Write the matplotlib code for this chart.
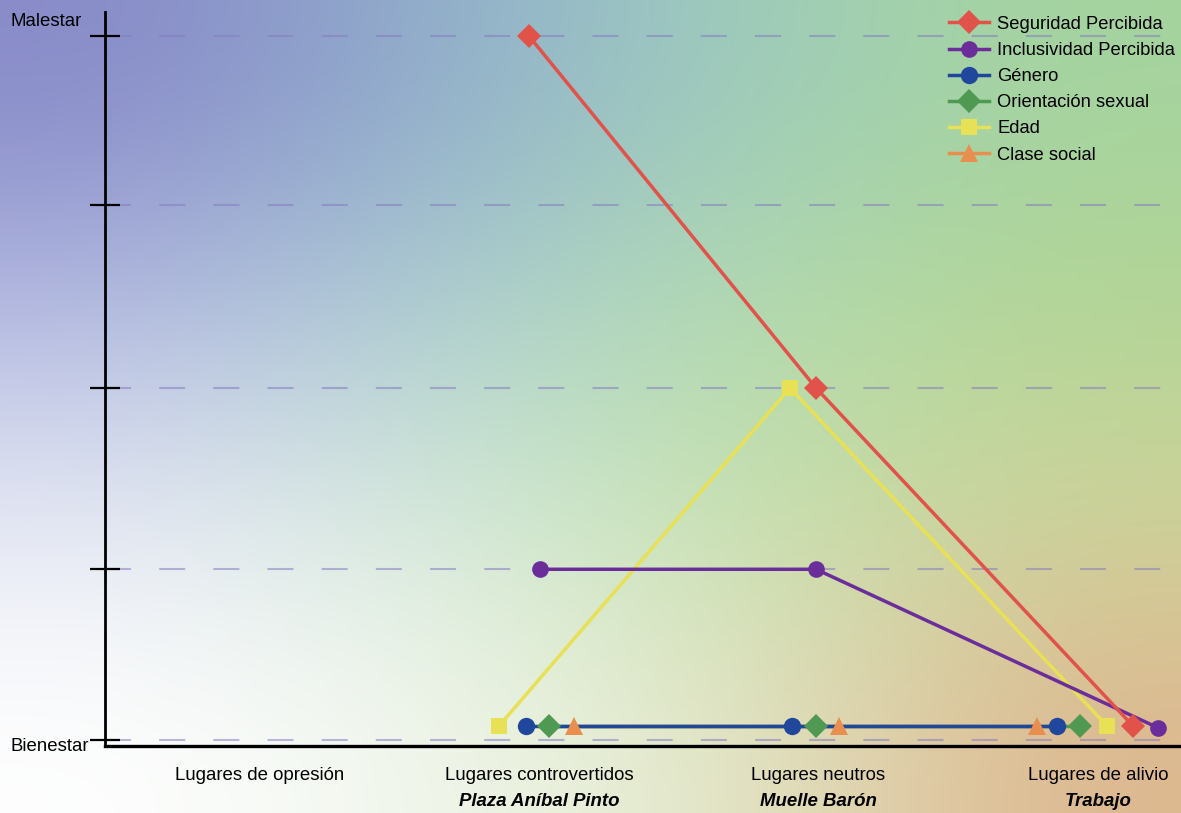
import numpy as np
import matplotlib
matplotlib.use("Agg")
import matplotlib.pyplot as plt
from matplotlib.lines import Line2D
from matplotlib.transforms import blended_transform_factory

plt.rcParams['font.family'] = ['Liberation Sans', 'DejaVu Sans']

# ---------------- data ----------------
categories = ["Lugares de opresión", "Lugares controvertidos", "Lugares neutros", "Lugares de alivio"]
places = ["", "Plaza Aníbal Pinto", "Muelle Barón", "Trabajo"]
cat_pos = [0, 1, 2, 3]

ytick_vals = [0, 0.97, 2.0, 3.04, 4]
y_low_label = "Bienestar"
y_high_label = "Malestar"

series_names = ["Seguridad Percibida", "Inclusividad Percibida", "Género",
                "Orientación sexual", "Edad", "Clase social"]

seguridad_x = [0.963, 1.991, 3.126]
seguridad_y = [4.0, 2.0, 0.08]
inclusividad_x = [1.003, 1.991, 3.215]
inclusividad_y = [0.97, 0.97, 0.07]
genero_x = [0.952, 1.905, 2.854]
genero_y = [0.08, 0.08, 0.08]
orientacion_x = [1.035, 1.991, 2.936]
orientacion_y = [0.08, 0.08, 0.08]
edad_x = [0.856, 1.898, 3.033]
edad_y = [0.08, 2.0, 0.08]
clase_x = [1.124, 2.073, 2.782]
clase_y = [0.08, 0.08, 0.08]

# ---------------- styles ----------------
colors = {
    "Seguridad Percibida": "#e0524a",
    "Inclusividad Percibida": "#6a2d9a",
    "Género": "#21479c",
    "Orientación sexual": "#4f9953",
    "Edad": "#e8e055",
    "Clase social": "#e88f50",
}
markers = {
    "Seguridad Percibida": ("D", 12.5),
    "Inclusividad Percibida": ("o", 12),
    "Género": ("o", 12.5),
    "Orientación sexual": ("D", 12),
    "Edad": ("s", 12),
    "Clase social": ("^", 12.5),
}
data = {
    "Seguridad Percibida": (seguridad_x, seguridad_y),
    "Inclusividad Percibida": (inclusividad_x, inclusividad_y),
    "Género": (genero_x, genero_y),
    "Orientación sexual": (orientacion_x, orientacion_y),
    "Edad": (edad_x, edad_y),
    "Clase social": (clase_x, clase_y),
}

W, H = 1181, 813
FS = 13.4
fig = plt.figure(figsize=(W / 100, H / 100), dpi=100)

# background gradient
bg = fig.add_axes([0, 0, 1, 1], zorder=-10)
grid_cols = np.array([
    [(135, 137, 200), (145, 175, 205), (158, 205, 190), (165, 212, 158)],
    [(178, 184, 225), (170, 207, 210), (178, 220, 175), (178, 213, 148)],
    [(228, 231, 244), (212, 234, 218), (195, 225, 172), (205, 212, 155)],
    [(255, 255, 255), (240, 246, 236), (225, 232, 198), (222, 182, 142)],
], dtype=float) / 255.0
bg.imshow(grid_cols, aspect='auto', interpolation='bicubic', extent=[0, 1, 0, 1], origin='upper')
bg.set_xlim(0, 1)
bg.set_ylim(0, 1)
bg.axis('off')

ax = fig.add_axes([105 / W, 67 / H, 1 - 105 / W, (746 - 12) / H])
ax.patch.set_alpha(0)

px_per_unit = 176.0
ax.set_ylim(-6 / px_per_unit, 4 + 24 / px_per_unit)
ax.set_xlim(-0.555, 3.298)

# grid lines
for yv in ytick_vals:
    ax.axhline(yv, color="#857cc0", alpha=0.55, lw=1.5, dashes=(12.5, 13.5), zorder=1)

# lines
order_lines = ["Clase social", "Orientación sexual", "Edad", "Género",
               "Inclusividad Percibida", "Seguridad Percibida"]
for name in order_lines:
    xs, ys = data[name]
    ax.plot(xs, ys, color=colors[name], lw=2.5, zorder=2, solid_capstyle='butt')

# markers
for name in order_lines:
    xs, ys = data[name]
    m, s = markers[name]
    ax.plot(xs, ys, ls='none', marker=m, ms=s, color=colors[name],
            markeredgewidth=0, zorder=3)

# axes styling
for sp in ["top", "right"]:
    ax.spines[sp].set_visible(False)
ax.spines["left"].set_linewidth(2)
ax.spines["bottom"].set_linewidth(2.4)
ax.set_yticks(ytick_vals)
ax.set_yticklabels([])
ax.tick_params(axis='y', direction='inout', length=22, width=1.6, color='black')
ax.set_xticks([])

# y-end labels
fig.text(10 / W, 1 - 22 / H, y_high_label, fontsize=FS, ha='left', va='center')
fig.text(10 / W, 1 - 746 / H, y_low_label, fontsize=FS, ha='left', va='center')

# category labels
trans_x = blended_transform_factory(ax.transData, fig.transFigure)
for p, c, pl in zip(cat_pos, categories, places):
    ax.text(p, 1 - 775 / H, c, transform=trans_x, ha='center', va='center', fontsize=FS)
    if pl:
        ax.text(p, 1 - 801 / H, pl, transform=trans_x, ha='center', va='center',
                fontsize=FS, fontweight='bold', fontstyle='italic')

# legend
handles = []
for name in series_names:
    m, s = markers[name]
    handles.append(Line2D([0], [0], color=colors[name], lw=2.5, marker=m, ms=s,
                          markeredgewidth=0))
fig.legend(handles, series_names, loc='upper left', bbox_to_anchor=(936 / W, 1 - 3 / H),
           frameon=False, fontsize=13.2, handlelength=2.2, handletextpad=0.45,
           labelspacing=0.5, borderpad=0.2)

fig.savefig("out.png", dpi=100)
